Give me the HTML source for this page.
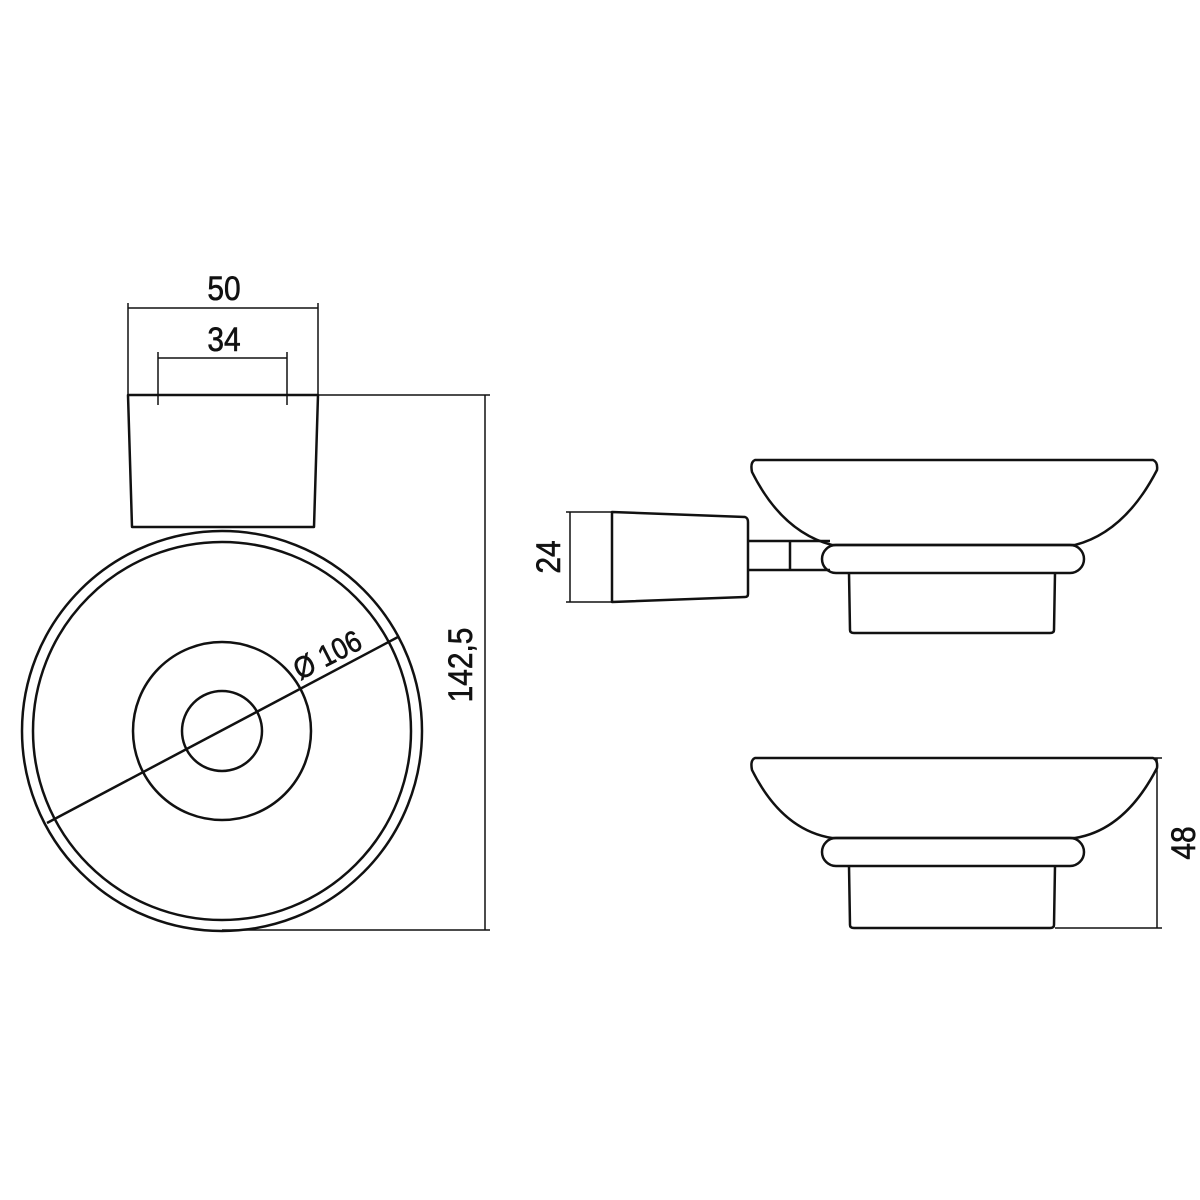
<!DOCTYPE html>
<html><head><meta charset="utf-8"><style>
html,body{margin:0;padding:0;background:#fff;}
svg{display:block}
text{font-family:"Liberation Sans Narrow","Liberation Sans",sans-serif;font-size:34px;fill:#111;stroke:#111;stroke-width:0.6;}
</style></head><body>
<svg width="1200" height="1200" viewBox="0 0 1200 1200" xmlns="http://www.w3.org/2000/svg">
<g fill="none" stroke="#111" stroke-width="2.5" stroke-linejoin="round">
<path d="M128 395 L318 395 L314 527 L132 527 Z"/>
<circle cx="222" cy="731" r="200"/>
<circle cx="222" cy="731" r="189"/>
<circle cx="222" cy="731" r="89"/>
<circle cx="222" cy="731" r="40"/>
<line x1="47" y1="823" x2="398" y2="637"/>
</g>
<g fill="none" stroke="#111" stroke-width="1.5">
<line x1="128" y1="303" x2="128" y2="395"/>
<line x1="318" y1="303" x2="318" y2="395"/>
<line x1="128" y1="308" x2="318" y2="308"/>
<line x1="158" y1="352" x2="158" y2="405"/>
<line x1="287" y1="352" x2="287" y2="405"/>
<line x1="158" y1="358" x2="287" y2="358"/>
<line x1="318" y1="395" x2="490" y2="395"/>
<line x1="222" y1="930" x2="490" y2="930"/>
<line x1="485" y1="395" x2="485" y2="930"/>
<line x1="566" y1="512" x2="612" y2="512"/>
<line x1="566" y1="602" x2="612" y2="602"/>
<line x1="570" y1="512" x2="570" y2="602"/>
<line x1="1150" y1="758" x2="1162" y2="758"/>
<line x1="1055" y1="928" x2="1162" y2="928"/>
<line x1="1157" y1="758" x2="1157" y2="928"/>
</g>
<g fill="none" stroke="#111" stroke-width="2.5" stroke-linejoin="round">
<path d="M612 512 L745 517 Q748 518 748 522 L748 594 Q748 597 745 597 L612 602 Z"/>
<path d="M748 541 L830 541 M748 570 L830 570 M790 541 L790 570"/>
<path d="M755 460 L1153 460 Q1158 462 1157 470 Q1125 532 1075 545 L832 545 Q782 532 752 472 Q750 462 755 460 Z"/>
<path d="M836 545 L1070 545 A14 14 0 0 1 1070 573 L836 573 A14 14 0 0 1 836 545 Z"/>
<path d="M849 573 L850 630 Q850 633 854 633 L1050 633 Q1054 633 1054 630 L1055 573"/>
<path d="M755 758 L1153 758 Q1158 760 1157 768 Q1125 830 1075 838 L832 838 Q782 830 752 770 Q750 760 755 758 Z"/>
<path d="M836 838 L1070 838 A14 14 0 0 1 1070 866 L836 866 A14 14 0 0 1 836 838 Z"/>
<path d="M849 866 L850 925 Q850 928 854 928 L1050 928 Q1054 928 1054 925 L1055 866"/>
</g>
<text transform="translate(224,300) scale(0.88,1)" text-anchor="middle">50</text>
<text transform="translate(224,351) scale(0.88,1)" text-anchor="middle">34</text>
<text transform="translate(472,665) rotate(-90) scale(0.88,1)" text-anchor="middle">142,5</text>
<text transform="translate(560,557) rotate(-90) scale(0.88,1)" text-anchor="middle">24</text>
<text transform="translate(1195,843) rotate(-90) scale(0.88,1)" text-anchor="middle">48</text>
<text transform="translate(332,664) rotate(-27) scale(0.88,1)" text-anchor="middle" style="font-size:30px">Ø 106</text>
</svg>
</body></html>
